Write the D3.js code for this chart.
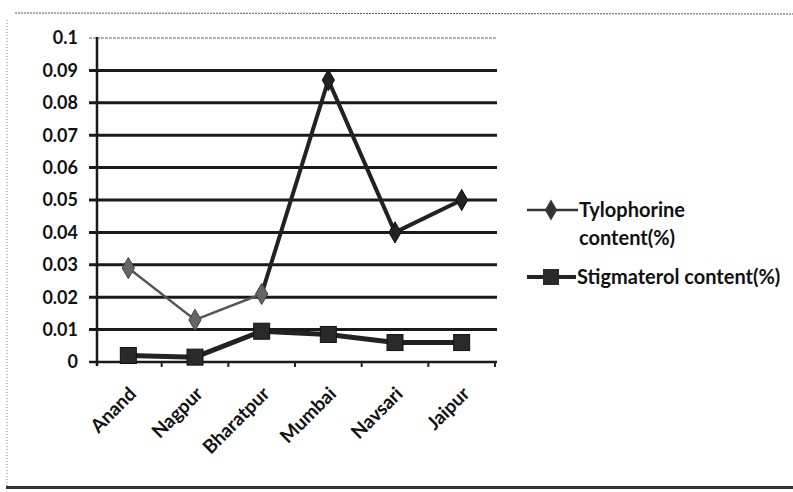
<!DOCTYPE html>
<html><head><meta charset="utf-8">
<script src="https://cdn.jsdelivr.net/npm/d3@7"></script>
<style>body{margin:0;background:#fff;} svg{display:block;}</style>
</head><body>
<svg id="chart" width="793" height="492"></svg>
<script>
const categories = ["Anand","Nagpur","Bharatpur","Mumbai","Navsari","Jaipur"];
const tylophorine = [0.029,0.013,0.021,0.087,0.040,0.050];
const stigmaterol = [0.002,0.0015,0.0095,0.0085,0.006,0.006];
const yTicks = [0,0.01,0.02,0.03,0.04,0.05,0.06,0.07,0.08,0.09,0.1];
const yTickLabels = ["0","0.01","0.02","0.03","0.04","0.05","0.06","0.07","0.08","0.09","0.1"];
const seriesNames = ["Tylophorine content(%)","Stigmaterol content(%)"];

const svg = d3.select("#chart");
const font = "Lato, 'Open Sans', sans-serif";
const m = {left:95, right:298, top:38, bottom:130};
const W = 793, H = 492;
const x = d3.scaleBand().domain(categories).range([m.left, W - m.right]);
const y = d3.scaleLinear().domain([0,0.1]).range([H - m.bottom, m.top]);

// frame
svg.append("line").attr("x1",15).attr("x2",793).attr("y1",13).attr("y2",14)
  .attr("stroke","#555").attr("stroke-width",1).attr("stroke-dasharray","2,1");
svg.append("line").attr("x1",7).attr("x2",7).attr("y1",20).attr("y2",487)
  .attr("stroke","#888").attr("stroke-width",1).attr("stroke-dasharray","1,2");
svg.append("line").attr("x1",6).attr("x2",793).attr("y1",487.5).attr("y2",487.5)
  .attr("stroke","#333").attr("stroke-width",3);

// gridlines
svg.append("g").selectAll("line").data(yTicks).join("line")
  .attr("x1", m.left - 6).attr("x2", W - m.right + 2)
  .attr("y1", d => y(d)).attr("y2", d => y(d))
  .attr("stroke", d => d === 0.1 ? "#666" : "#1a1a1a")
  .attr("stroke-width", d => d === 0.1 ? 1 : (d === 0 ? 2.5 : 3))
  .attr("stroke-dasharray", d => d === 0.1 ? "3,1" : null);

// y axis line
svg.append("line").attr("x1", m.left + 2).attr("x2", m.left + 2)
  .attr("y1", y(0.1) - 1).attr("y2", y(0) + 4)
  .attr("stroke","#1a1a1a").attr("stroke-width",2.5);

// y labels
svg.append("g").selectAll("text").data(yTicks).join("text")
  .attr("x", 78).attr("y", d => y(d)).attr("dy","0.36em")
  .attr("text-anchor","end").attr("font-family",font).attr("font-weight","bold")
  .attr("font-size",18).attr("fill","#111")
  .text((d,i) => yTickLabels[i]);

// x ticks
const bounds = categories.map(c => x(c) + x.bandwidth());
svg.append("g").selectAll("line").data(bounds).join("line")
  .attr("x1", d => d).attr("x2", d => d).attr("y1", y(0)).attr("y2", y(0) + 5)
  .attr("stroke","#222").attr("stroke-width",2);

// x labels
svg.append("g").selectAll("text").data(categories).join("text")
  .attr("transform", d => `translate(${x(d) + x.bandwidth()/2 + 9},${y(0) + 33}) rotate(-45)`)
  .attr("text-anchor","end").attr("font-family",font).attr("font-weight","bold")
  .attr("font-size",19).attr("fill","#111")
  .text(d => d);

const cx = c => x(c) + x.bandwidth()/2;

// Tylophorine line, drawn segment by segment
const tyPts = categories.map((c,i) => [cx(c), y(tylophorine[i])]);
svg.append("g").selectAll("line").data(d3.pairs(tyPts)).join("line")
  .attr("x1", d => d[0][0]).attr("y1", d => d[0][1])
  .attr("x2", d => d[1][0]).attr("y2", d => d[1][1])
  .attr("stroke", (d,i) => i < 2 ? "#555" : "#222")
  .attr("stroke-width", (d,i) => i < 2 ? 2.5 : 4)
  .attr("stroke-linecap","round");
const diamond = d3.symbol().type(d3.symbolDiamond).size(130);
svg.append("g").selectAll("path").data(tyPts).join("path")
  .attr("transform", d => `translate(${d[0]},${d[1]})`)
  .attr("d", diamond)
  .attr("fill", (d,i) => i < 3 ? "#666" : "#222")
  .attr("stroke", (d,i) => i < 3 ? "#444" : "#111").attr("stroke-width",1);

// Stigmaterol line
const stPts = categories.map((c,i) => [cx(c), y(stigmaterol[i])]);
svg.append("path").datum(stPts)
  .attr("d", d3.line())
  .attr("fill","none").attr("stroke","#222").attr("stroke-width",5);
svg.append("g").selectAll("rect").data(stPts).join("rect")
  .attr("x", d => d[0] - 8).attr("y", d => d[1] - 8)
  .attr("width",16).attr("height",16)
  .attr("fill","#2a2a2a").attr("stroke","#111");

// legend
const lg = svg.append("g");
const legendFont = 20;
lg.append("line").attr("x1",527).attr("x2",578).attr("y1",210).attr("y2",210)
  .attr("stroke","#333").attr("stroke-width",2.5);
lg.append("path").attr("transform","translate(551,210)").attr("d",diamond)
  .attr("fill","#333");
lg.append("text").attr("x",579).attr("y",210).attr("dy","0.36em")
  .attr("font-family",font).attr("font-weight","bold").attr("font-size",legendFont).attr("fill","#111")
  .text("Tylophorine");
lg.append("text").attr("x",579).attr("y",238).attr("dy","0.36em")
  .attr("font-family",font).attr("font-weight","bold").attr("font-size",legendFont).attr("fill","#111")
  .text("content(%)");
lg.append("line").attr("x1",527).attr("x2",576).attr("y1",277).attr("y2",277)
  .attr("stroke","#222").attr("stroke-width",4);
lg.append("rect").attr("x",543).attr("y",269).attr("width",16).attr("height",16)
  .attr("fill","#2a2a2a");
lg.append("text").attr("x",577).attr("y",277).attr("dy","0.36em")
  .attr("font-family",font).attr("font-weight","bold").attr("font-size",legendFont).attr("fill","#111")
  .text("Stigmaterol content(%)");
</script>
</body></html>
